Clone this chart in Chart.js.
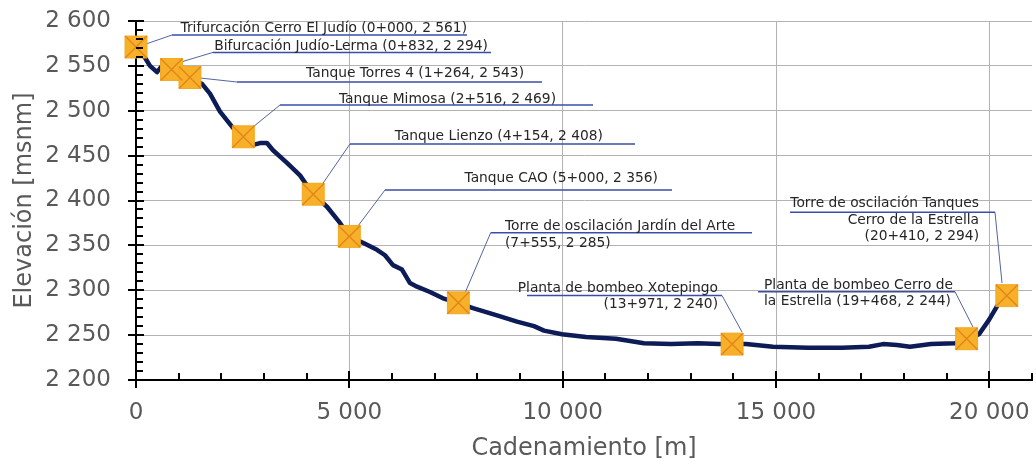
<!DOCTYPE html>
<html><head><meta charset="utf-8">
<script src="https://cdn.jsdelivr.net/npm/chart.js@4/dist/chart.umd.min.js"></script>
<style>html,body{margin:0;padding:0;background:#fff}#wrap{width:1036px;height:464px;position:relative}</style>
</head><body><div id="wrap"><canvas id="c"></canvas></div>
<script>
// ---- Data ----
const profileChainage = [0,211,328,492,609,844,1266,1547,1734,1969,2273,2508,2742,2906,3070,3211,3539,3844,4148,4477,4781,4992,5320,5648,5836,6023,6234,6422,6586,6891,7195,7547,7898,8461,8930,9328,9563,9984,10547,11250,11906,12539,13172,13664,13969,14297,14930,15750,16547,17180,17508,17836,18141,18633,19195,19477,19758,19992,20227,20391];
const profileElevation = [2571,2559,2550,2543,2550,2545,2535,2530,2519,2499,2481,2471,2462,2464,2464,2456,2442,2428,2407,2393,2375,2360,2353,2345,2339,2328,2323,2308,2304,2298,2291,2286,2280,2272,2265,2260,2255,2251,2248,2246,2241,2240,2241,2240,2240,2240,2237,2236,2236,2237,2240,2239,2237,2240,2241,2245,2251,2267,2286,2294];

const stationChainage = [0,832,1264,2516,4154,5000,7555,13971,19468,20410];
const stationElevation = [2571,2546,2537,2471,2407,2360,2286,2240,2246,2294];
const stationLabels = [
  ['Trifurcación Cerro El Judío (0+000, 2 561)'],
  ['Bifurcación Judío-Lerma (0+832, 2 294)'],
  ['Tanque Torres 4 (1+264, 2 543)'],
  ['Tanque Mimosa (2+516, 2 469)'],
  ['Tanque Lienzo (4+154, 2 408)'],
  ['Tanque CAO (5+000, 2 356)'],
  ['Torre de oscilación Jardín del Arte','(7+555, 2 285)'],
  ['Planta de bombeo Xotepingo','(13+971, 2 240)'],
  ['Planta de bombeo Cerro de','la Estrella (19+468, 2 244)'],
  ['Torre de oscilación Tanques','Cerro de la Estrella','(20+410, 2 294)']
];
const xTitle = 'Cadenamiento [m]';
const yTitle = 'Elevación [msnm]';
const xTickValues = [0,5000,10000,15000,20000];
const yTickValues = [2200,2250,2300,2350,2400,2450,2500,2550,2600];
const xMin = 0, xMax = 21000, xMinor = 1000;
const yMin = 2200, yMax = 2600, yMinor = 10;

// ---- Callout layout (in data units; positions only) ----
const calloutLayout = [
  {lead:[211,2574],   elbow:[844,2584.4],   ulEnd:7758,  align:'right', tx:7758,  base:[2587.2]},
  {lead:[1031,2554],  elbow:[1805,2565],    ulEnd:8320,  align:'right', tx:8250,  base:[2567.5]},
  {lead:[1500,2536.5],elbow:[2367,2532],    ulEnd:9516,  align:'right', tx:9094,  base:[2537.6]},
  {lead:[2719,2481],  elbow:[3375,2506.4],  ulEnd:10711, align:'right', tx:9844,  base:[2508.6]},
  {lead:[4336,2416],  elbow:[5016,2463],    ulEnd:11695, align:'right', tx:10945, base:[2467.4]},
  {lead:[5203,2371.6],elbow:[5836,2411.7],  ulEnd:12563, align:'right', tx:12234, base:[2420.6]},
  {lead:[7711,2297],  elbow:[8313,2364.1],  ulEnd:14438, align:'left',  tx:8648,  base:[2367.1,2348.7]},
  {lead:[14203,2253.5],elbow:[13734,2294.2],ulEnd:9164,  align:'right', tx:13641, base:[2298.0,2280.2]},
  {lead:[19617,2259], elbow:[19195,2298.4], ulEnd:14578, align:'left',  tx:14719, base:[2301.4,2283.6]},
  {lead:[20297,2308], elbow:[20133,2386.9], ulEnd:15328, align:'right', tx:19758, base:[2393.2,2373.8,2356.0]}
];

function fmt(v){ return String(Math.round(v)).replace(/\B(?=(\d{3})+(?!\d))/g,' '); }
const FONT = '"DejaVu Sans", Verdana, sans-serif';
const GRAY = '#595959';

const calloutPlugin = {
  id:'callouts',
  beforeDatasetsDraw(chart){
    const {ctx, scales:{x,y}} = chart;
    ctx.save();
    stationLabels.forEach((lines,i)=>{
      const L = calloutLayout[i];
      const lx = x.getPixelForValue(L.lead[0]), ly = y.getPixelForValue(L.lead[1]);
      const ex = x.getPixelForValue(L.elbow[0]), ey = y.getPixelForValue(L.elbow[1]);
      const ux = x.getPixelForValue(L.ulEnd);
      ctx.strokeStyle = '#55649e'; ctx.lineWidth = 1;
      ctx.beginPath(); ctx.moveTo(lx,ly); ctx.lineTo(ex,ey); ctx.stroke();
      ctx.strokeStyle = '#3a4ea8'; ctx.lineWidth = 1.5;
      ctx.beginPath(); ctx.moveTo(ex,ey); ctx.lineTo(ux,ey); ctx.stroke();
      ctx.fillStyle = '#262626';
      ctx.font = '13.8px ' + FONT;
      ctx.textAlign = L.align; ctx.textBaseline = 'alphabetic';
      const tx = x.getPixelForValue(L.tx);
      lines.forEach((t,k)=>{ ctx.fillText(t, tx, y.getPixelForValue(L.base[k])); });
    });
    ctx.restore();
  },
  afterDraw(chart){
    const {ctx, chartArea:a, scales:{x,y}} = chart;
    ctx.save();
    ctx.strokeStyle = '#000'; ctx.lineWidth = 2;
    ctx.beginPath();
    for(let v=yMin; v<=yMax; v+=yMinor){
      const py = Math.round(y.getPixelForValue(v));
      if(yTickValues.includes(v)){ ctx.moveTo(a.left-8,py); ctx.lineTo(a.left+8,py); }
      else { ctx.moveTo(a.left,py); ctx.lineTo(a.left+7,py); }
    }
    for(let v=xMin; v<=xMax; v+=xMinor){
      const px = Math.round(x.getPixelForValue(v));
      if(xTickValues.includes(v)){ ctx.moveTo(px,a.bottom-9); ctx.lineTo(px,a.bottom+8); }
      else { ctx.moveTo(px,a.bottom-7); ctx.lineTo(px,a.bottom); }
    }
    ctx.stroke();
    ctx.restore();
  }
};

const stationPts = stationChainage.map((v,i)=>({x:v,y:stationElevation[i]}));

new Chart(document.getElementById('c'), {
  type:'line',
  data:{
    datasets:[
      {data: profileChainage.map((v,i)=>({x:v,y:profileElevation[i]})), borderColor:'#0d1b56', borderWidth:4.5, pointRadius:0, tension:0, order:3, borderJoinStyle:'round', borderCapStyle:'round'},
      {data: stationPts, showLine:false, clip:false, pointStyle:'rect', pointRadius:15.5, pointBackgroundColor:'#f6b128', pointBorderColor:'#f3a91f', pointBorderWidth:1, order:2},
      {data: stationPts, showLine:false, clip:false, pointStyle:'crossRot', pointRadius:15.5, pointBorderColor:'#e5841c', pointBorderWidth:1.4, order:1}
    ]
  },
  options:{
    responsive:true, maintainAspectRatio:false, animation:false, devicePixelRatio:1,
    layout:{autoPadding:false, padding:{top:21,right:4,left:0,bottom:0}},
    plugins:{legend:{display:false}, tooltip:{enabled:false}},
    scales:{
      x:{type:'linear', min:xMin, max:xMax,
        afterBuildTicks(s){ s.ticks = xTickValues.map(v=>({value:v})); },
        afterFit(s){ s.height = 84; s.paddingLeft = 0; s.paddingRight = 0; },
        ticks:{autoSkip:false, maxRotation:0, minRotation:0, padding:19, color:GRAY, font:{family:FONT,size:23},
          callback:(v)=> fmt(v)},
        grid:{drawTicks:false, lineWidth:1, color:(c)=> (c.tick && c.tick.value>xMin) ? '#b3b3b3' : 'rgba(0,0,0,0)'},
        border:{display:true, color:'#000', width:2},
        title:{display:true, text:xTitle, color:GRAY, font:{family:FONT,size:24}, padding:{top:0,bottom:1}}
      },
      y:{type:'linear', min:yMin, max:yMax,
        afterBuildTicks(s){ s.ticks = yTickValues.map(v=>({value:v})); },
        afterFit(s){ s.width = 136; s.paddingTop = 0; s.paddingBottom = 0; },
        ticks:{autoSkip:false, padding:25, color:GRAY, font:{family:FONT,size:23}, callback:(v)=>fmt(v)},
        grid:{drawTicks:false, lineWidth:1, color:(c)=> (c.tick && c.tick.value>yMin) ? '#b3b3b3' : 'rgba(0,0,0,0)'},
        border:{display:true, color:'#000', width:2},
        title:{display:true, text:yTitle, color:GRAY, font:{family:FONT,size:24}, padding:{top:10,bottom:0}}
      }
    }
  },
  plugins:[calloutPlugin]
});
</script></body></html>
